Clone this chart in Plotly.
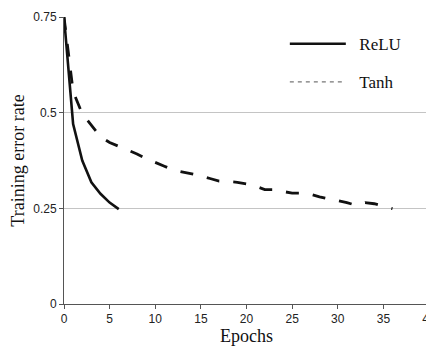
import plotly.graph_objects as go

relu_epochs = [0, 1, 2, 3, 4, 5, 6]
relu_error = [0.75, 0.47, 0.375, 0.318, 0.288, 0.265, 0.248]

tanh_epochs = list(range(0, 37))
tanh_error = [0.75, 0.555, 0.497, 0.466, 0.437, 0.422, 0.412, 0.403, 0.392, 0.38, 0.369,
              0.36, 0.35, 0.345, 0.341, 0.335, 0.328, 0.321, 0.32, 0.318, 0.314, 0.308,
              0.299, 0.299, 0.294, 0.29, 0.29, 0.287, 0.28, 0.275, 0.271, 0.265, 0.258,
              0.265, 0.262, 0.255, 0.249]

x_ticks = [0, 5, 10, 15, 20, 25, 30, 35, 40]
y_ticks = [0, 0.25, 0.5, 0.75]
y_tick_labels = ["0", "0.25", "0.5", "0.75"]

fig = go.Figure()
fig.add_trace(go.Scatter(x=relu_epochs, y=relu_error, mode="lines", name="&nbsp;&nbsp;ReLU",
                         legendgroup="relu",
                         line=dict(color="#111111", width=2.6)))
fig.add_trace(go.Scatter(x=tanh_epochs, y=tanh_error, mode="lines", name="Tanh",
                         showlegend=False,
                         line=dict(color="#111111", width=2.8, dash="13px,14px")))
# legend sample for Tanh (finer dashes as in the reference legend)
fig.add_trace(go.Scatter(x=[None], y=[None], mode="lines", name="&nbsp;&nbsp;Tanh",
                         legendgroup="tanh",
                         line=dict(color="#777777", width=1.3, dash="4px,4px")))

# the page body has an 8px margin, so the figure is sized to fit the window
fig.update_layout(
    width=426, height=338,
    margin=dict(l=56, r=5, t=9, b=42, autoexpand=False),
    paper_bgcolor="white", plot_bgcolor="white",
    showlegend=True,
    legend=dict(x=0.605, y=0.968, xanchor="left", yanchor="top",
                font=dict(family="Liberation Serif", size=17, color="#111111"),
                bgcolor="rgba(0,0,0,0)", itemwidth=56, tracegroupgap=13),
    font=dict(family="Liberation Sans", size=12, color="#222222"),
)
fig.update_xaxes(range=[0, 40], tickvals=x_ticks, ticks="outside", ticklen=4,
                 tickcolor="#555555", showline=True, linecolor="#555555", linewidth=1,
                 mirror=False, showgrid=False, zeroline=False, automargin=False,
                 ticklabeloverflow="allow",
                 title=dict(text="Epochs", font=dict(family="Liberation Serif", size=18, color="#111111"),
                            standoff=2))
fig.update_yaxes(range=[0, 0.75], tickvals=y_ticks, ticktext=y_tick_labels, ticks="outside",
                 ticklen=4, tickcolor="#555555", showline=True, linecolor="#555555", linewidth=1,
                 showgrid=True, gridcolor="#c4c4c4", gridwidth=1, zeroline=False, automargin=False,
                 ticklabeloverflow="allow",
                 title=dict(text="Training error rate", font=dict(family="Liberation Serif", size=18, color="#111111"),
                            standoff=6))
# right border line
fig.add_shape(type="line", xref="paper", yref="paper", x0=1, x1=1, y0=0, y1=1,
              line=dict(color="#b0b0b0", width=1.5))

fig.write_html("out.html")
